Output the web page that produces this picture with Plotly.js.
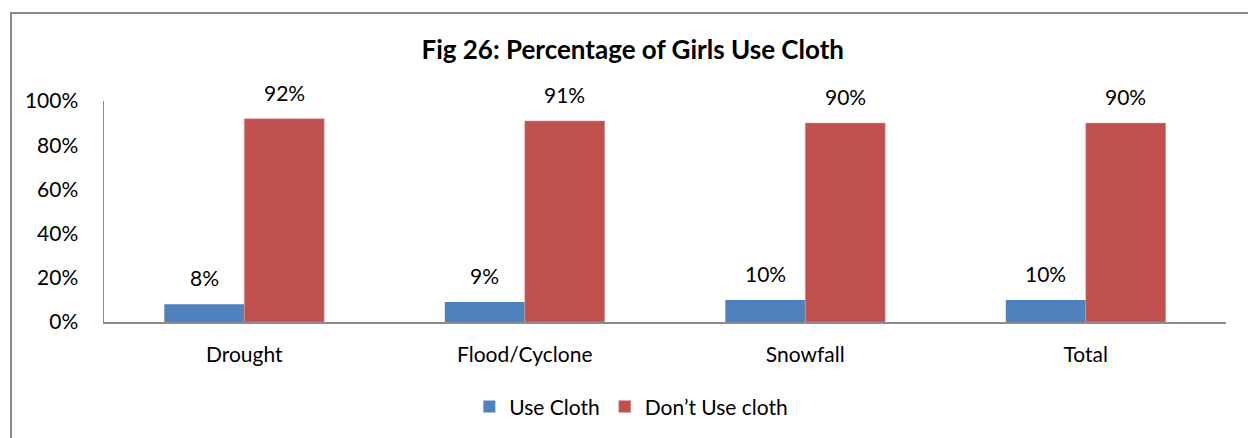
<!DOCTYPE html>
<html>
<head>
<meta charset="utf-8">
<script src="https://cdn.plot.ly/plotly-3.0.1.min.js"></script>
<style>
  html, body { margin: 0; padding: 0; background: #fff; }
  #wrap { position: relative; width: 1248px; height: 438px; overflow: hidden; }
  #chart { width: 1248px; height: 438px; }
  #frame {
    position: absolute; left: 10px; top: 12px; right: -4px; bottom: -4px;
    border-left: 2px solid #8c8c8c; border-top: 2px solid #8c8c8c;
    pointer-events: none;
  }
</style>
</head>
<body>
<div id="wrap">
  <div id="chart"></div>
  <div id="frame"></div>
</div>
<script>
// Share of girls who use cloth, by disaster region
const categories = ["Drought", "Flood/Cyclone", "Snowfall", "Total"];
const useCloth = [8, 9, 10, 10];
const dontUseCloth = [92, 91, 90, 90];
const seriesNames = ["Use Cloth", "Don\u2019t Use cloth"];
const yTickVals = [0, 20, 40, 60, 80, 100];
const yTickText = ["0%", "20%", "40%", "60%", "80%", "100%"];

const FONT = "Lato, Calibri, 'Open Sans', sans-serif";
const SIZE = 21;
const BLUE = "#4F81BD";
const RED = "#C0504D";

const traces = [
  { type: "bar", name: seriesNames[0], x: categories, y: useCloth,
    marker: { color: BLUE }, hoverinfo: "skip" },
  { type: "bar", name: seriesNames[1], x: categories, y: dontUseCloth,
    marker: { color: RED, line: { color: "#d9a0a0", width: 0.5 } }, hoverinfo: "skip" }
];

// value labels sit above each bar of the pair
const labels = [];
[[useCloth, -40], [dontUseCloth, 40]].forEach(([vals, dx]) => {
  vals.forEach((v, i) => {
    labels.push({
      x: categories[i], y: v, xref: "x", yref: "y",
      text: v + "%", showarrow: false,
      xshift: dx, yshift: 12, yanchor: "bottom",
      font: { family: FONT, size: SIZE, color: "#000" }
    });
  });
});

const layout = {
  width: 1248, height: 438,
  margin: { l: 104, r: 22, t: 101, b: 115 },
  paper_bgcolor: "#fff", plot_bgcolor: "#fff",
  font: { family: FONT, size: SIZE, color: "#000" },
  title: {
    text: "<b>Fig 26: Percentage of Girls Use Cloth</b>",
    xref: "container", x: 0.507, xanchor: "center",
    yref: "container", y: 1 - 50 / 438, yanchor: "middle",
    font: { family: FONT, size: 26, color: "#000" }
  },
  barmode: "group", bargap: 0.43, bargroupgap: 0,
  xaxis: {
    type: "category",
    showline: true, linecolor: "#8c8c8c", linewidth: 2,
    ticks: "", ticklabelstandoff: 13,
    tickfont: { family: FONT, size: SIZE, color: "#000" },
    showgrid: false, zeroline: false, fixedrange: true
  },
  yaxis: {
    range: [0, 100], tickvals: yTickVals, ticktext: yTickText,
    showline: true, linecolor: "#8c8c8c", linewidth: 1.5,
    ticks: "", ticklabelstandoff: 20,
    tickfont: { family: FONT, size: SIZE, color: "#000" },
    showgrid: false, zeroline: false, fixedrange: true
  },
  legend: {
    orientation: "h", x: 0.47, xanchor: "center",
    y: -0.378, yanchor: "middle",
    font: { family: FONT, size: SIZE, color: "#000" },
    itemwidth: 30, traceorder: "normal"
  },
  annotations: labels,
  showlegend: true
};

Plotly.newPlot("chart", traces, layout, { staticPlot: true, displayModeBar: false });
</script>
</body>
</html>
